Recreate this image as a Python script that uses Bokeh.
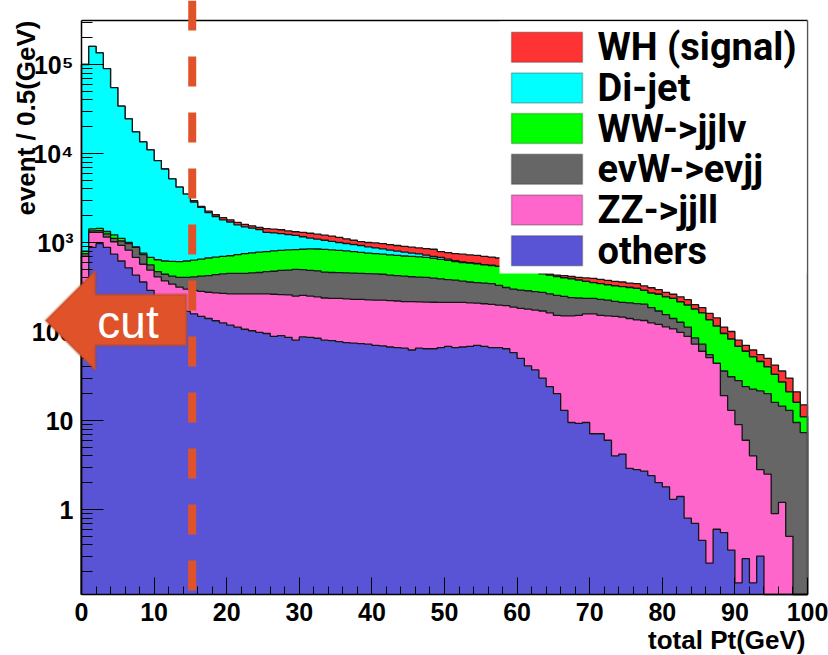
import numpy as np
from bokeh.plotting import figure
from bokeh.models import FixedTicker, Label, BoxAnnotation, PolyAnnotation, Range1d
from bokeh.embed import file_html
from bokeh.resources import INLINE

# ---------------- data (stack heights per 1 GeV bin of total Pt, events / 0.5 GeV) ----------------
# each array = cumulative stack height up to and including that process (as drawn by THStack)
pt_bin_low = list(range(0, 100))
pt_bin_width = 1.0

top_others = [350, 880, 970, 880, 740, 620, 520, 430, 360, 290,
              245, 215, 195, 180, 168, 158, 148, 140, 132, 125,
              118, 112, 106, 102, 98, 95, 88, 90, 86, 80,
              87, 86, 84, 80, 79, 77, 75, 74, 73, 72,
              70, 69, 67, 66, 65, 62, 65, 64, 64, 66,
              68, 66, 67, 68, 70, 68, 66, 66, 64, 58,
              50, 41, 37, 30, 24, 20, 13, 9.5, 9.3, 9.5,
              7.1, 7.1, 6.0, 4.0, 4.2, 2.9, 2.8, 2.7, 2.4, 2.0,
              1.8, 1.3, 1.4, 0.8, 0.7, 0.45, 0.25, 0.6, 0.55, 0.35,
              0.15, 0.28, 0.15, 0.3, 0, 0, 0, 0, 0, 0]

top_zz = [700, 1300, 1300, 1150, 1020, 930, 820, 680, 570, 490,
          410, 370, 340, 315, 300, 290, 282, 276, 272, 268,
          265, 265, 265, 265, 265, 265, 262, 260, 258, 250,
          255, 250, 245, 238, 236, 235, 233, 230, 230, 227,
          225, 225, 222, 220, 217, 217, 215, 214, 213, 212,
          212, 212, 212, 210, 208, 205, 202, 198, 195, 188,
          182, 178, 174, 170, 162, 152, 150, 150, 152, 158,
          158, 152, 150, 148, 145, 140, 135, 133, 125, 120,
          113, 107, 98, 88, 72, 60, 51, 44, 19, 13,
          9, 6, 4, 2.8, 2.5, 0.9, 1.2, 0.5, 0, 0]

top_evw = [750, 1350, 1360, 1250, 1110, 1040, 975, 880, 730, 560,
           470, 440, 420, 405, 405, 410, 420, 425, 435, 445,
           450, 450, 450, 455, 460, 470, 475, 485, 490, 500,
           495, 485, 480, 465, 460, 458, 455, 452, 450, 447,
           445, 440, 430, 425, 418, 412, 408, 405, 398, 390,
           383, 377, 368, 360, 355, 350, 345, 330, 312, 300,
           292, 287, 280, 275, 265, 255, 248, 240, 238, 236,
           235, 230, 225, 218, 212, 210, 206, 203, 185, 170,
           155, 140, 127, 112, 85, 72, 55, 40, 36, 31,
           28, 24, 22.5, 21.5, 20, 16, 14.5, 13, 9.5, 7.3]

top_ww = [800, 1420, 1440, 1330, 1220, 1110, 1000, 890, 760, 680,
          640, 620, 615, 610, 620, 635, 650, 670, 685, 700,
          710, 730, 750, 765, 780, 790, 805, 815, 825, 830,
          840, 850, 845, 835, 825, 815, 805, 790, 775, 760,
          750, 740, 725, 715, 705, 700, 690, 680, 665, 645,
          630, 610, 595, 585, 575, 560, 550, 540, 525, 510,
          495, 480, 465, 445, 430, 415, 400, 390, 378, 365,
          355, 345, 335, 325, 320, 312, 305, 290, 270, 262,
          245, 235, 215, 198, 178, 162, 135, 115, 95, 82,
          68, 60, 52, 46, 40, 33, 27, 21, 16, 11]

top_dijet = [1.0e5, 1.6e5, 1.35e5, 9.0e4, 5.5e4, 3.4e4, 2.45e4, 1.75e4, 1.35e4, 1.1e4,
             8.3e3, 6.7e3, 5.2e3, 4.2e3, 3.5e3, 2850, 2480, 2170, 1950, 1800,
             1700, 1580, 1500, 1450, 1400, 1300, 1280, 1260, 1230, 1200,
             1160, 1120, 1090, 1060, 1030, 1000, 975, 950, 925, 895,
             870, 850, 820, 800, 780, 760, 745, 720, 700, 680,
             650, 625, 605, 592, 582, 565, 555, 540, 525, 510,
             495, 480, 465, 445, 430, 415, 400, 390, 378, 365,
             355, 345, 335, 325, 320, 312, 305, 290, 270, 262,
             245, 235, 215, 198, 178, 162, 135, 115, 95, 82,
             68, 60, 52, 46, 40, 33, 27, 21, 16, 11]

top_wh = [1.0e5, 1.6e5, 1.35e5, 9.0e4, 5.5e4, 3.4e4, 2.45e4, 1.75e4, 1.35e4, 1.1e4,
          8.3e3, 6.7e3, 5.2e3, 4.2e3, 3.5e3, 2950, 2550, 2250, 2050, 1900,
          1800, 1680, 1600, 1540, 1480, 1430, 1410, 1390, 1350, 1320,
          1300, 1270, 1240, 1210, 1180, 1140, 1100, 1060, 1025, 1000,
          990, 970, 945, 925, 905, 885, 870, 855, 840, 790,
          770, 750, 740, 725, 715, 700, 685, 670, 650, 620,
          590, 560, 510, 460, 445, 430, 425, 415, 405, 400,
          395, 385, 375, 365, 360, 350, 345, 325, 310, 295,
          275, 262, 245, 228, 200, 185, 160, 142, 112, 100,
          80, 70, 62, 55, 50, 42, 36, 30, 21, 15]

process_names = ["WH (signal)", "Di-jet", "WW->jjlv", "evW->evjj", "ZZ->jjll", "others"]
process_colors = ["#ff3333", "#00ffff", "#00ff00", "#666666", "#ff66cc", "#5954d6"]
stack_tops = [top_wh, top_dijet, top_ww, top_evw, top_zz, top_others]

x_tick_values = [0, 10, 20, 30, 40, 50, 60, 70, 80, 90, 100]
y_tick_values = [1, 10, 100, 1000, 10000, 100000]
y_tick_labels = ["1", "10", "100", "10\u00b3", "10\u2074", "10\u2075"]
cut_value = 15.25

# ---------------- layout helpers (page pixels -> data coords); frame covers whole canvas ----------------
W, H = 828, 655


def px_x(px):
    return (px - 81.0) / 7.26


def py_y(py):
    return 10 ** ((509.0 - py) / 89.0)


Y_AXIS = py_y(594)        # value at the x axis line
Y_FRAME_TOP = py_y(20)    # value at the top frame line

p = figure(width=W, height=H, x_range=Range1d(px_x(0), px_x(W)), y_range=Range1d(py_y(H), py_y(0)),
           y_axis_type="log", output_backend="svg", toolbar_location=None, title=None,
           min_border_left=0, min_border_right=0, min_border_top=0, min_border_bottom=0)
p.outline_line_color = None
p.grid.visible = False
p.background_fill_color = "white"
p.border_fill_color = "white"

FLOOR = Y_AXIS
edges = np.array(pt_bin_low + [pt_bin_low[-1] + pt_bin_width], dtype=float)
xs = np.repeat(edges, 2)
for tops, color in zip(stack_tops, process_colors):
    v = np.maximum(np.asarray(tops, dtype=float), FLOOR)
    ys = np.concatenate([[FLOOR], np.repeat(v, 2), [FLOOR]])
    p.varea(x=xs, y1=np.full_like(ys, FLOOR), y2=ys, fill_color=color, fill_alpha=1.0)
    p.line(xs, ys, line_color="#151515", line_width=1.3)

# frame top and right edges
p.segment(x0=[0], y0=[Y_FRAME_TOP], x1=[100], y1=[Y_FRAME_TOP], line_color="black", line_width=1.5)
p.segment(x0=[100], y0=[Y_AXIS], x1=[100], y1=[Y_FRAME_TOP], line_color="#555555", line_width=1.5)

# cut line (dashed, from top of picture down to the x axis)
p.segment(x0=[cut_value], y0=[py_y(0)], x1=[cut_value], y1=[Y_AXIS], line_color="#e0522a",
          line_width=8, line_dash="30 26")

# axes
AX_FONT = "Liberation Sans"
p.xaxis.fixed_location = Y_AXIS
p.xaxis.ticker = FixedTicker(ticks=x_tick_values, minor_ticks=list(range(0, 101, 2)))
p.xaxis.bounds = (0, 100)
p.xaxis.major_tick_in = 17
p.xaxis.major_tick_out = 0
p.xaxis.minor_tick_in = 8
p.xaxis.minor_tick_out = 0
p.xaxis.axis_line_width = 1.5
p.xaxis.major_label_standoff = 8
p.xaxis.major_label_text_font = AX_FONT
p.xaxis.major_label_text_font_style = "bold"
p.xaxis.major_label_text_font_size = "25px"
p.xaxis.major_label_text_color = "black"

minor_y = [m * 10.0 ** e for e in range(-1, 6) for m in range(2, 10) if Y_AXIS < m * 10.0 ** e < Y_FRAME_TOP]
p.yaxis.fixed_location = 0
p.yaxis.ticker = FixedTicker(ticks=y_tick_values, minor_ticks=minor_y)
p.yaxis.bounds = (Y_AXIS, Y_FRAME_TOP)
p.yaxis.major_label_overrides = {t: s for t, s in zip(y_tick_values, y_tick_labels)}
p.yaxis.major_tick_in = 22
p.yaxis.major_tick_out = 0
p.yaxis.minor_tick_in = 11
p.yaxis.minor_tick_out = 0
p.yaxis.axis_line_width = 1.5
p.yaxis.major_label_standoff = 8
p.yaxis.major_label_text_font = AX_FONT
p.yaxis.major_label_text_font_style = "bold"
p.yaxis.major_label_text_font_size = "25px"
p.yaxis.major_label_text_color = "black"

# axis titles (text centred on the middle line of the letters)
p.add_layout(Label(x=px_x(25.5), y=py_y(20), text="event / 0.5(GeV)", angle=np.pi / 2,
                   text_align="right", text_baseline="middle", text_font=AX_FONT,
                   text_font_style="bold", text_font_size="26px", text_color="black"))
p.add_layout(Label(x=px_x(805), y=py_y(639.5), text="total Pt(GeV)", text_align="right",
                   text_baseline="middle", text_font=AX_FONT, text_font_style="bold",
                   text_font_size="26px", text_color="black"))

# cut arrow
arrow_px = [(45, 320), (95, 270), (95, 294), (186, 294), (186, 345), (95, 345), (95, 370)]
p.add_layout(PolyAnnotation(xs=[px_x(a) for a, b in arrow_px], ys=[py_y(b) for a, b in arrow_px],
                            fill_color="#e0522a", fill_alpha=1.0, line_color="#a9411e", line_width=3))
p.add_layout(Label(x=px_x(127.5), y=py_y(321), text="cut", text_align="center",
                   text_baseline="middle", text_font=AX_FONT, text_font_size="46px",
                   text_color="white"))

# legend (drawn by hand to match ROOT TLegend)
p.add_layout(BoxAnnotation(left=px_x(499), right=px_x(806), top=py_y(21), bottom=py_y(273),
                           fill_color="white", fill_alpha=1.0, line_color=None))
LEG_FONT = "Roboto"
for i, (name, color) in enumerate(zip(process_names, process_colors)):
    cy = 46.7 + 40.7 * i
    p.add_layout(BoxAnnotation(left=px_x(511), right=px_x(582), top=py_y(cy - 15), bottom=py_y(cy + 15),
                               fill_color=color, fill_alpha=1.0, line_color="#333333", line_width=1.5))
    p.add_layout(Label(x=px_x(597), y=py_y(cy), text=name, text_baseline="middle",
                       text_font=LEG_FONT, text_font_style="bold", text_font_size="38px",
                       text_color="black"))

open("out.html", "w").write(file_html(p, INLINE))
